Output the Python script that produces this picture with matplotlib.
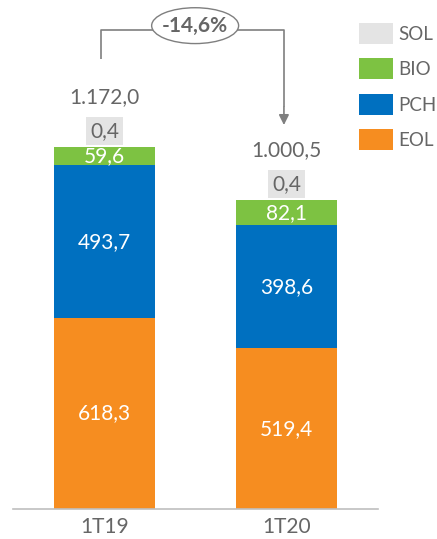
import matplotlib

matplotlib.use("Agg")
import matplotlib.pyplot as plt
from matplotlib.patches import Ellipse
import numpy as np

plt.rcParams["font.family"] = ["Lato", "DejaVu Sans"]

# Quarterly generation by technology
periods = ["1T19", "1T20"]
eol = [618.3, 519.4]
pch = [493.7, 398.6]
bio = [59.6, 82.1]
sol = [0.4, 0.4]

COLORS = {
    "EOL": "#F68D20",
    "PCH": "#0070C0",
    "BIO": "#7DC242",
    "SOL": "#E4E4E4",
}
TEXT = "#666666"
LINE = "#7F7F7F"


def fmt(v):
    # 1172.0 -> "1.172,0"
    s = f"{v:,.1f}"
    return s.replace(",", "X").replace(".", ",").replace("X", ".")


fig = plt.figure(figsize=(4.37, 5.39), dpi=100)
ax = fig.add_axes([13 / 437, 30 / 539, 365 / 437, 509 / 539])

x = np.arange(len(periods))
width = 0.555

bottom = np.zeros(len(periods))
bars = {}
for name, vals in [("EOL", eol), ("PCH", pch), ("BIO", bio), ("SOL", sol)]:
    vals = np.array(vals)
    bars[name] = ax.bar(x, vals, width, bottom=bottom, color=COLORS[name],
                        label=name, zorder=2)
    if name != "SOL":
        for xi, b, v in zip(x, bottom, vals):
            ax.text(xi, b + v / 2, fmt(v), ha="center", va="center",
                    color="white", fontsize=15)
    bottom = bottom + vals

totals = bottom

# small SOL values sit above the bars in a grey tag, totals above that
for xi, top, v in zip(x, totals, sol):
    ax.annotate(fmt(v), xy=(xi, top), xytext=(0, 16), textcoords="offset pixels",
                ha="center", va="center", color=TEXT, fontsize=15,
                bbox=dict(boxstyle="square,pad=0.18", fc=COLORS["SOL"], ec="none"))
    ax.annotate(fmt(top), xy=(xi, top), xytext=(0, 50), textcoords="offset pixels",
                ha="center", va="center", color=TEXT, fontsize=15)

# change bracket between the two totals
y_top = 1550
x_left = x[0] - 0.02
x_right = x[1] - 0.014
ax.plot([x_left, x_left, x_right, x_right], [totals[0] + 285, y_top, y_top, totals[1] + 300],
        color=LINE, lw=1.2, solid_capstyle="butt", zorder=3)
ax.annotate("", xy=(x_right, totals[1] + 242), xytext=(x_right, totals[1] + 300),
            arrowprops=dict(arrowstyle="-|>,head_length=0.6,head_width=0.3",
                            color=LINE, lw=1.2, shrinkA=0, shrinkB=0))
change = (totals[1] / totals[0] - 1) * 100
x_mid = (x_left + x_right) / 2 + 0.015
ax.add_patch(Ellipse((x_mid, y_top + 14), 0.478, 116, fc="white", ec=LINE,
                     lw=1.0, zorder=4))
ax.text(x_mid, y_top + 14, f"{change:.1f}%".replace(".", ","),
        ha="center", va="center", color=TEXT, fontsize=15, fontweight="bold", zorder=5)

ax.set_xlim(-0.503, 1.503)
ax.set_ylim(0, 1647)
ax.set_xticks(x)
ax.set_xticklabels(periods, color=TEXT, fontsize=15)
ax.tick_params(axis="x", length=0, pad=6)
ax.set_yticks([])
for side in ["top", "right", "left"]:
    ax.spines[side].set_visible(False)
ax.spines["bottom"].set_color("#BFBFBF")
ax.spines["bottom"].set_linewidth(1.2)

handles = [bars[n] for n in ["SOL", "BIO", "PCH", "EOL"]]
leg = fig.legend(handles, ["SOL", "BIO", "PCH", "EOL"], loc="upper left",
                 bbox_to_anchor=(359 / 437, 1 - 23 / 539), frameon=False,
                 fontsize=13.5, handlelength=1.8, handleheight=1.33,
                 handletextpad=0.3, labelspacing=0.78, borderpad=0, borderaxespad=0)
for t in leg.get_texts():
    t.set_color(TEXT)

fig.savefig("out.png", dpi=100)
